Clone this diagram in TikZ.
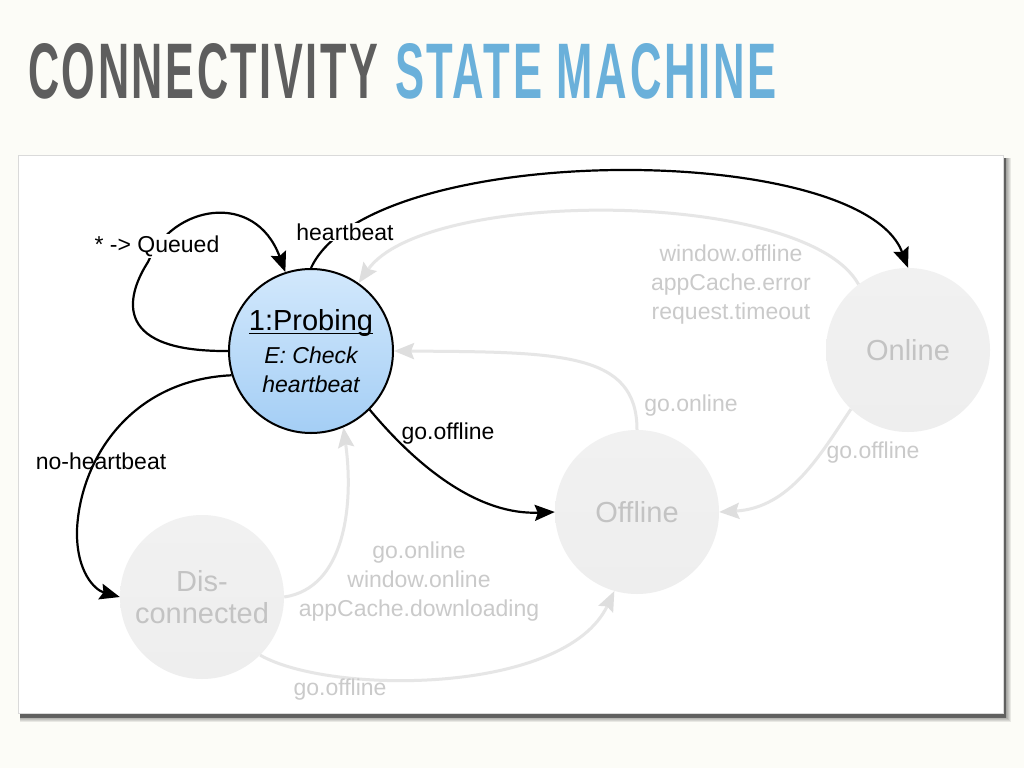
\documentclass[tikz,border=0pt]{standalone}
\usepackage{fontspec}
\setmainfont{Liberation Sans}
\newfontfamily\headingfont[LetterSpace=6]{Liberation Sans}
\usepackage{graphicx}
\usetikzlibrary{arrows.meta}
\definecolor{pagebg}{HTML}{FCFCF7}
\definecolor{titlegray}{HTML}{5E5E5E}
\definecolor{titleblue}{HTML}{6AB0DA}
\definecolor{probetop}{HTML}{D2E8FC}
\definecolor{probebot}{HTML}{A4CEF5}
\definecolor{ghostfill}{HTML}{EEEEEE}
\definecolor{ghostfilltop}{HTML}{F1F1F1}
\definecolor{ghostline}{HTML}{E6E6E6}
\definecolor{ghosttip}{HTML}{DEDEDE}
\definecolor{ghosttext}{HTML}{CACACA}
\definecolor{ghoststate}{HTML}{C3C3C3}
\definecolor{framebd}{HTML}{DADADA}
\definecolor{shadowcore}{HTML}{4E4E4E}
% underline drawn through the descenders, as in the state title
\newcommand\stateul[1]{{\setbox0\hbox{#1}\rlap{\rule[-3.5pt]{\wd0}{1.4pt}}\box0}}
\begin{document}
\begin{tikzpicture}[x=1pt,y=-1pt,
  activestate/.style={circle,draw=black,line width=2pt,minimum size=164pt,inner sep=0pt,
    top color=probetop,bottom color=probebot,align=center,text=black,
    font=\fontsize{23}{29}\selectfont\itshape},
  ghoststate/.style={circle,minimum size=164pt,inner sep=0pt,top color=ghostfilltop,
    bottom color=ghostfill,align=center,text=ghoststate,
    font=\fontsize{29}{32}\selectfont},
  liveedge/.style={draw=black,line width=2.2pt,
    -{Stealth[length=20pt,width=16pt,inset=3pt]}},
  ghostedge/.style={draw=ghostline,line width=3pt,
    -{Stealth[length=20pt,width=16pt,inset=3pt,color=ghosttip]}},
  livelabel/.style={font=\fontsize{23}{27}\selectfont,text=black,inner sep=1pt},
  ghostlabel/.style={font=\fontsize{23}{29}\selectfont,text=ghosttext,align=center,inner sep=1pt},
  titletext/.style={inner sep=0pt,anchor=base west,font=\headingfont\bfseries}]

% page and slide frame with its drop shadow
\path[use as bounding box,fill=pagebg] (0,0) rectangle (1024,768);
\foreach \s in {1,...,6}
  \fill[black,opacity=0.08] (20,158) rectangle (1005+\s,716+\s);
\fill[shadowcore,opacity=0.75] (20,158) rectangle (1006,718);
\fill[white,draw=framebd,line width=0.8pt] (18,155) rectangle (1003,713);

% heading
\node[titletext,text=titlegray] (titleA) at (28,98)
  {\resizebox{350pt}{55pt}{CONNECTIVITY}};
\node[titletext,text=titleblue] (titleB) at (395,98)
  {\resizebox{381pt}{55pt}{STATE MACHINE}};

% states
\node[ghoststate] (online) at (908,350) {Online};
\node[ghoststate] (offline) at (637,512) {Offline};
\node[ghoststate] (disc) at (202,597) {Dis-\\connected};
\node[activestate] (probing) at (311,351)
  {{\upshape\fontsize{29}{33}\selectfont\stateul{1:Probing}}\\[4pt]
   E: Check\\heartbeat};

% inactive transitions
\draw[ghostedge] (online.127) .. controls (805,188) and (425,188) .. (probing.55);
\draw[ghostedge] (offline.north) .. controls (637,352) and (560,352) .. (probing.east);
\draw[ghostedge] (online.226) .. controls (820,455) and (790,508) .. (offline.east);
\draw[ghostedge] (disc.east) .. controls (345,588) and (354,505) .. (probing.-67);
\draw[ghostedge] (disc.-45) .. controls (330,695) and (565,695) .. (offline.254);

\node[ghostlabel] (lblOnProbe) at (731,285) {window.offline\\appCache.error\\request.timeout};
\node[ghostlabel] (lblGoOnline) at (691,406) {go.online};
\node[ghostlabel] (lblOnOff) at (873,453) {go.offline};
\node[ghostlabel] (lblDiscProbe) at (419,582) {go.online\\window.online\\appCache.downloading};
\node[ghostlabel] (lblDiscOff) at (340,690) {go.offline};

% active transitions
\draw[liveedge] (probing.180) .. controls (105,352) and (130,290) .. (148,262)
  .. controls (172,205) and (255,190) .. (probing.108);
\draw[liveedge] (probing.north) .. controls (370,140) and (860,140) .. (online.north);
\draw[liveedge] (probing.-45) .. controls (420,470) and (480,515) .. (offline.west);
\draw[liveedge] (probing.197) .. controls (130,380) and (80,460) .. (77,530)
  .. controls (76,572) and (95,590) .. (disc.west);

\node[livelabel,fill=white] (lblQueued) at (157,246) {* -> Queued};
\node[livelabel,fill=white] (lblBeat) at (345,232) {heartbeat};
\node[livelabel] (lblGoOff) at (448,434) {go.offline};
\node[livelabel] (lblNoBeat) at (101,461) {no-heartbeat};
\end{tikzpicture}
\end{document}
